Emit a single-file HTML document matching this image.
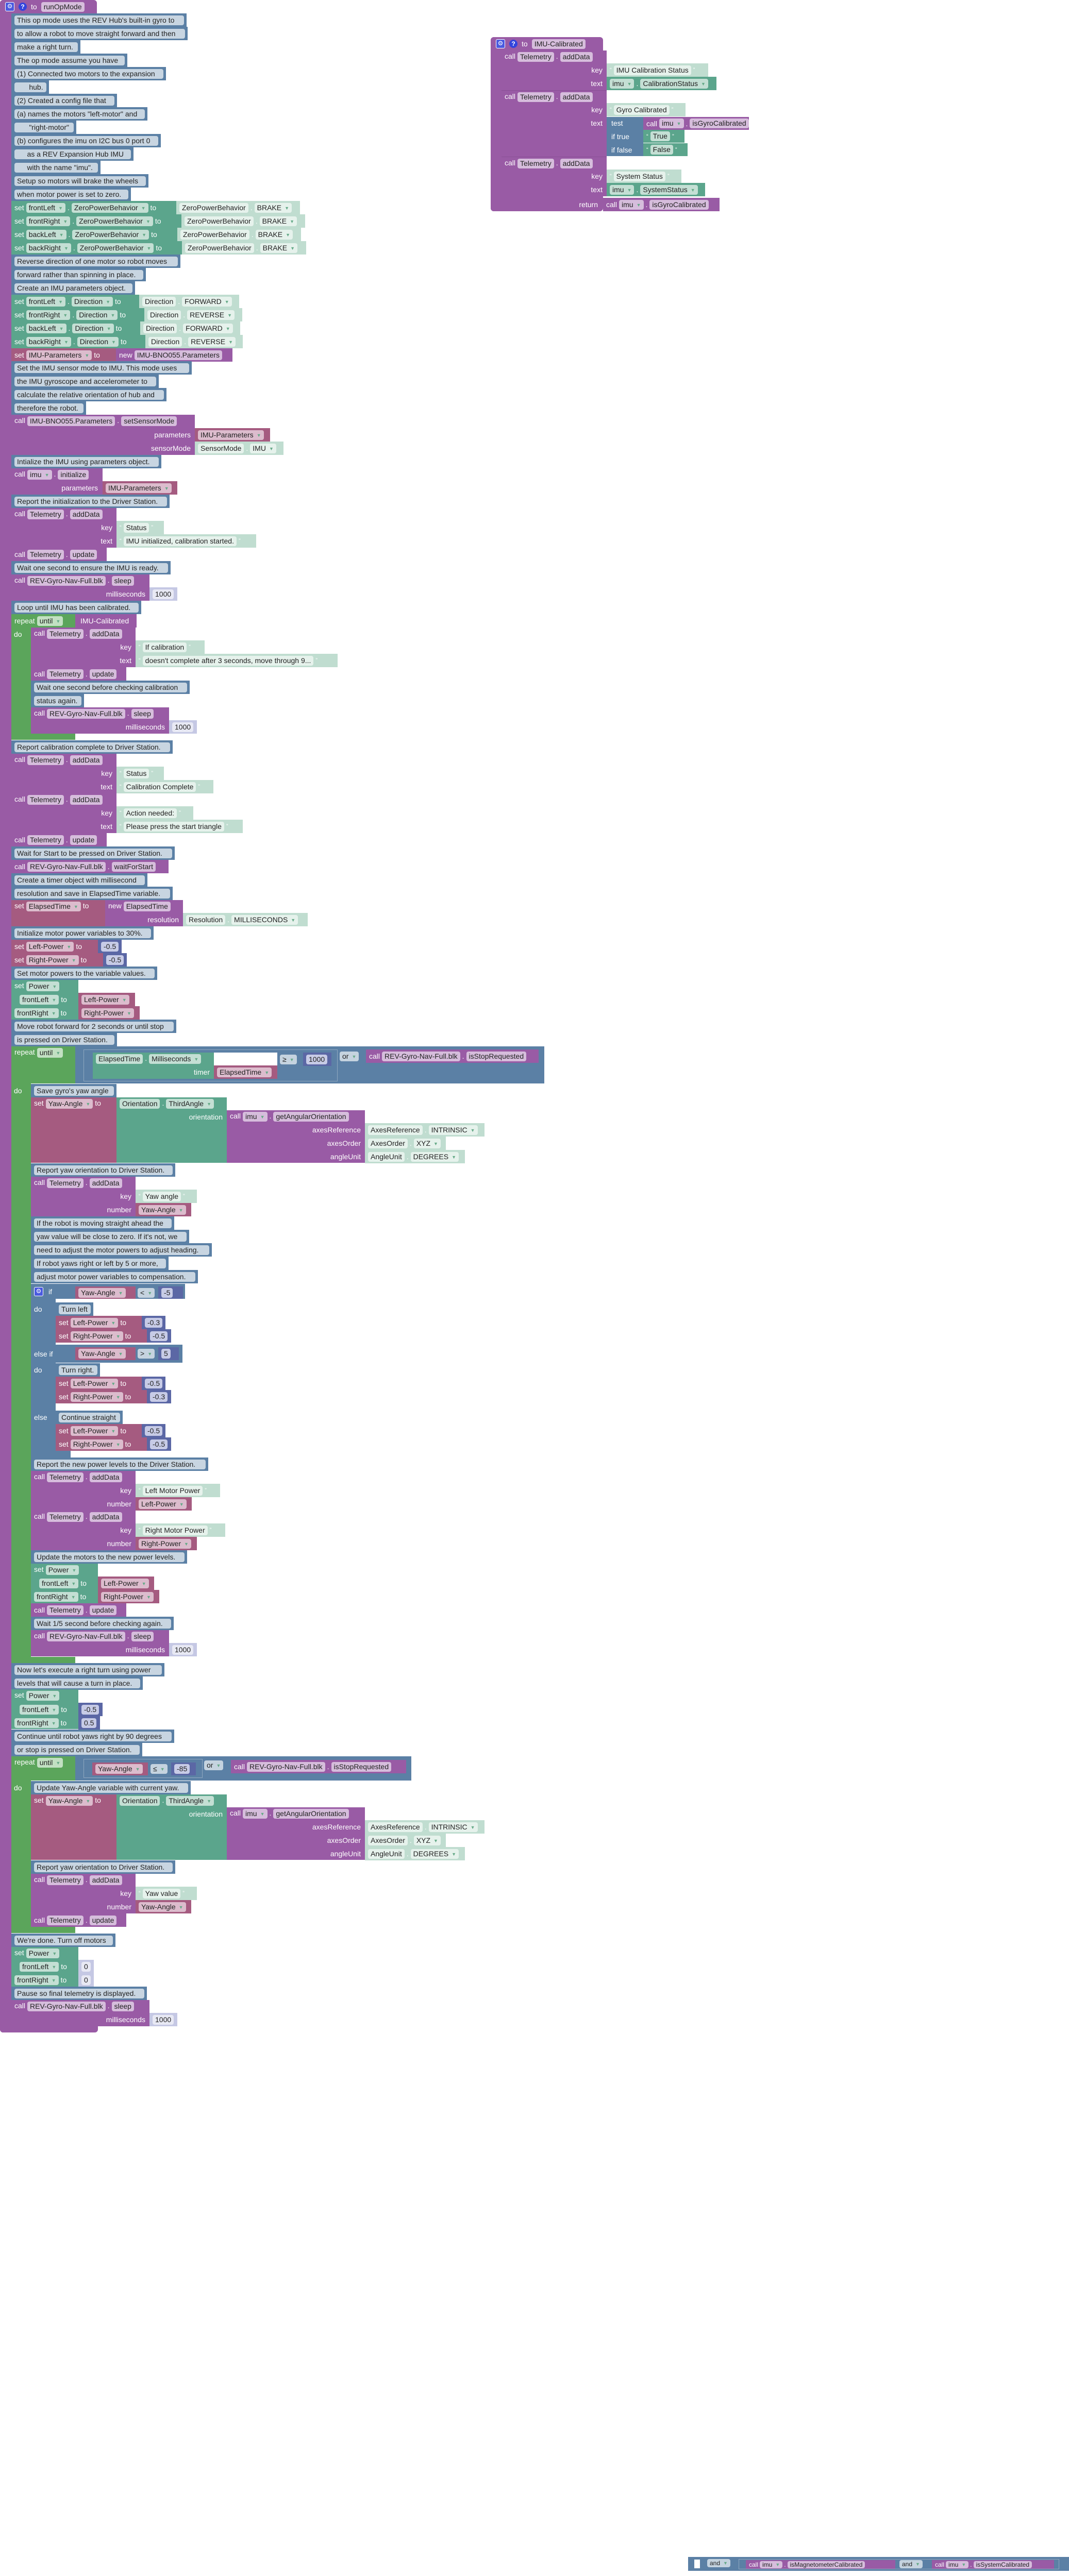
<!DOCTYPE html>
<html style="overflow:hidden;width:2074px;height:5011px"><head><meta charset="utf-8"><style>
html,body{margin:0;width:2074px;height:5011px;overflow:hidden}
body{background:#fff;position:relative;font-family:"Liberation Sans",Arial,sans-serif;font-size:14px}
div{position:absolute;box-sizing:border-box}
.r{height:26px;display:flex;align-items:center;padding-left:6px;gap:4px;color:#fff;white-space:nowrap;overflow:hidden}
.t{align-items:flex-start;padding-top:3px}
.p{display:inline-block;height:19px;line-height:19px;border-radius:4px;padding:0 5px;color:#222;white-space:nowrap}
.a{font-size:9px;color:#6a8;margin-left:6px;vertical-align:1px}
.lb{height:26px;line-height:26px;color:#fff;text-align:right;white-space:nowrap}
.q{color:#fff;font-size:11px}
.P{background:#995ba5}.P .p{background:#d6bddc}
.C{background:#5b80a5}.C .p{background:#c8d5e1;flex:1;margin-right:5px}
.G{background:#5ba58c}.G .p{background:#c4dfd4}
.L{background:#c0ddd0}.L .p{background:#e6f2ec}
.V{background:#a55b80}.V .p{background:#dcbccd}
.N{background:#5b67a5}.N .p{background:#c7cbe6}
.M{background:#c5c8e4}.M .p{background:#e8e9f4}
.K{background:#5ba55b}.K .p{background:#c2e0c2}
.B{background:#5b80a5}.B .p{background:#c5d3df}
.gear{display:inline-block;width:16px;height:16px;background:#4a5ae0;border:1px solid #fff;border-radius:3px;color:#fff;font-size:12px;line-height:15px;text-align:center}
.qm{display:inline-block;width:16px;height:16px;background:#3344dd;border-radius:50%;color:#fff;font-size:12px;line-height:16px;text-align:center;font-weight:bold}
.box{border:1px solid #90a8c0}
</style></head><body>

<div class="P" style="left:0;top:0;width:22px;height:3945px;border-radius:6px 0 0 6px"></div>
<div class="P r" style="left:0;top:0;width:188px;padding-left:10px;gap:8px;border-radius:6px 6px 0 0"><span class="gear">⚙</span><span class="qm">?</span>to<span class="p">runOpMode</span></div>
<div class="P" style="left:0;top:3932px;width:190px;height:13px;border-radius:0 0 6px 6px"></div>

<div class="C r" style="left:22px;top:26px;width:340px"><span class="p">This op mode uses the REV Hub's built-in gyro to</span></div>
<div class="C r" style="left:22px;top:52px;width:342px"><span class="p">to allow a robot to move straight forward and then</span></div>
<div class="C r" style="left:22px;top:78px;width:134px"><span class="p">make a right turn.</span></div>
<div class="C r" style="left:22px;top:104px;width:225px"><span class="p">The op mode assume you have</span></div>
<div class="C r" style="left:22px;top:130px;width:300px"><span class="p">(1) Connected two motors to the expansion</span></div>
<div class="C r" style="left:22px;top:156px;width:73px"><span class="p">&nbsp;&nbsp;&nbsp;&nbsp;&nbsp;&nbsp;hub.</span></div>
<div class="C r" style="left:22px;top:182px;width:205px"><span class="p">(2) Created a config file that</span></div>
<div class="C r" style="left:22px;top:208px;width:264px"><span class="p">(a) names the motors "left-motor" and</span></div>
<div class="C r" style="left:22px;top:234px;width:126px"><span class="p">&nbsp;&nbsp;&nbsp;&nbsp;&nbsp;&nbsp;"right-motor"</span></div>
<div class="C r" style="left:22px;top:260px;width:290px"><span class="p">(b) configures the imu on I2C bus 0 port 0</span></div>
<div class="C r" style="left:22px;top:286px;width:237px"><span class="p">&nbsp;&nbsp;&nbsp;&nbsp;&nbsp;as a REV Expansion Hub IMU</span></div>
<div class="C r" style="left:22px;top:312px;width:173px"><span class="p">&nbsp;&nbsp;&nbsp;&nbsp;&nbsp;with the name "imu".</span></div>
<div class="C r" style="left:22px;top:338px;width:266px"><span class="p">Setup so motors will brake the wheels</span></div>
<div class="C r" style="left:22px;top:364px;width:232px"><span class="p">when motor power is set to zero.</span></div>

<div class="G r" style="left:22px;top:390px;width:320px">set<span class="p">frontLeft<span class="a">▼</span></span>.<span class="p">ZeroPowerBehavior<span class="a">▼</span></span>to</div>
<div class="L r" style="left:342px;top:390px;width:240px"><span class="p">ZeroPowerBehavior</span>.<span class="p">BRAKE<span class="a">▼</span></span></div>
<div class="G r" style="left:22px;top:416px;width:330px">set<span class="p">frontRight<span class="a">▼</span></span>.<span class="p">ZeroPowerBehavior<span class="a">▼</span></span>to</div>
<div class="L r" style="left:352px;top:416px;width:240px"><span class="p">ZeroPowerBehavior</span>.<span class="p">BRAKE<span class="a">▼</span></span></div>
<div class="G r" style="left:22px;top:442px;width:322px">set<span class="p">backLeft<span class="a">▼</span></span>.<span class="p">ZeroPowerBehavior<span class="a">▼</span></span>to</div>
<div class="L r" style="left:344px;top:442px;width:240px"><span class="p">ZeroPowerBehavior</span>.<span class="p">BRAKE<span class="a">▼</span></span></div>
<div class="G r" style="left:22px;top:468px;width:331px">set<span class="p">backRight<span class="a">▼</span></span>.<span class="p">ZeroPowerBehavior<span class="a">▼</span></span>to</div>
<div class="L r" style="left:353px;top:468px;width:241px"><span class="p">ZeroPowerBehavior</span>.<span class="p">BRAKE<span class="a">▼</span></span></div>

<div class="C r" style="left:22px;top:494px;width:328px"><span class="p">Reverse direction of one motor so robot moves</span></div>
<div class="C r" style="left:22px;top:520px;width:261px"><span class="p">forward rather than spinning in place.</span></div>
<div class="C r" style="left:22px;top:546px;width:240px"><span class="p">Create an IMU parameters object.</span></div>

<div class="G r" style="left:22px;top:572px;width:248px">set<span class="p">frontLeft<span class="a">▼</span></span>.<span class="p">Direction<span class="a">▼</span></span>to</div>
<div class="L r" style="left:270px;top:572px;width:194px"><span class="p">Direction</span>.<span class="p">FORWARD<span class="a">▼</span></span></div>
<div class="G r" style="left:22px;top:598px;width:258px">set<span class="p">frontRight<span class="a">▼</span></span>.<span class="p">Direction<span class="a">▼</span></span>to</div>
<div class="L r" style="left:280px;top:598px;width:190px"><span class="p">Direction</span>.<span class="p">REVERSE<span class="a">▼</span></span></div>
<div class="G r" style="left:22px;top:624px;width:250px">set<span class="p">backLeft<span class="a">▼</span></span>.<span class="p">Direction<span class="a">▼</span></span>to</div>
<div class="L r" style="left:272px;top:624px;width:194px"><span class="p">Direction</span>.<span class="p">FORWARD<span class="a">▼</span></span></div>
<div class="G r" style="left:22px;top:650px;width:260px">set<span class="p">backRight<span class="a">▼</span></span>.<span class="p">Direction<span class="a">▼</span></span>to</div>
<div class="L r" style="left:282px;top:650px;width:189px"><span class="p">Direction</span>.<span class="p">REVERSE<span class="a">▼</span></span></div>

<div class="V r" style="left:22px;top:676px;width:203px">set<span class="p">IMU-Parameters<span class="a">▼</span></span>to</div>
<div class="P r" style="left:225px;top:676px;width:226px">new<span class="p">IMU-BNO055.Parameters</span></div>

<div class="C r" style="left:22px;top:701px;width:350px"><span class="p">Set the IMU sensor mode to IMU. This mode uses</span></div>
<div class="C r" style="left:22px;top:727px;width:286px"><span class="p">the IMU gyroscope and accelerometer to</span></div>
<div class="C r" style="left:22px;top:753px;width:301px"><span class="p">calculate the relative orientation of hub and</span></div>
<div class="C r" style="left:22px;top:779px;width:145px"><span class="p">therefore the robot.</span></div>

<div class="P r t" style="left:22px;top:805px;width:356px;height:78px">call<span class="p">IMU-BNO055.Parameters</span>.<span class="p">setSensorMode</span></div>
<div class="lb" style="left:22px;top:831px;width:348px">parameters</div>
<div class="V r" style="left:378px;top:831px;width:146px"><span class="p">IMU-Parameters<span class="a">▼</span></span></div>
<div class="lb" style="left:22px;top:857px;width:348px">sensorMode</div>
<div class="L r" style="left:378px;top:857px;width:172px"><span class="p">SensorMode</span>.<span class="p">IMU<span class="a">▼</span></span></div>

<div class="C r" style="left:22px;top:883px;width:291px"><span class="p">Intialize the IMU using parameters object.</span></div>
<div class="P r t" style="left:22px;top:909px;width:177px;height:51px">call<span class="p">imu<span class="a">▼</span></span>.<span class="p">initialize</span></div>
<div class="lb" style="left:22px;top:934px;width:168px">parameters</div>
<div class="V r" style="left:199px;top:934px;width:145px"><span class="p">IMU-Parameters<span class="a">▼</span></span></div>

<div class="C r" style="left:22px;top:960px;width:307px"><span class="p">Report the initialization to the Driver Station.</span></div>
<div class="P r t" style="left:22px;top:986px;width:204px;height:77px">call<span class="p">Telemetry</span>.<span class="p">addData</span></div>
<div class="lb" style="left:22px;top:1011px;width:196px">key</div>
<div class="L r" style="left:226px;top:1011px;width:92px"><span class="q">“</span><span class="p">Status</span><span class="q">”</span></div>
<div class="lb" style="left:22px;top:1037px;width:196px">text</div>
<div class="L r" style="left:226px;top:1037px;width:271px"><span class="q">“</span><span class="p">IMU initialized, calibration started.</span><span class="q">”</span></div>
<div class="P r" style="left:22px;top:1063px;width:185px">call<span class="p">Telemetry</span>.<span class="p">update</span></div>

<div class="C r" style="left:22px;top:1089px;width:309px"><span class="p">Wait one second to ensure the IMU is ready.</span></div>
<div class="P r t" style="left:22px;top:1115px;width:268px;height:51px">call<span class="p">REV-Gyro-Nav-Full.blk</span>.<span class="p">sleep</span></div>
<div class="lb" style="left:22px;top:1140px;width:260px">milliseconds</div>
<div class="M r" style="left:290px;top:1140px;width:54px"><span class="p">1000</span></div>

<div class="C r" style="left:22px;top:1166px;width:252px"><span class="p">Loop until IMU has been calibrated.</span></div>
<div class="K" style="left:22px;top:1192px;width:38px;height:244px"></div>
<div class="K r" style="left:22px;top:1192px;width:124px">repeat<span class="p">until<span class="a">▼</span></span></div>
<div class="K" style="left:22px;top:1424px;width:124px;height:12px"></div>
<div class="lb" style="left:27px;top:1218px;width:20px;text-align:left">do</div>
<div class="P r" style="left:146px;top:1192px;width:119px;padding-left:10px">IMU-Calibrated</div>
<div class="P r t" style="left:60px;top:1218px;width:203px;height:77px">call<span class="p">Telemetry</span>.<span class="p">addData</span></div>
<div class="lb" style="left:60px;top:1243px;width:195px">key</div>
<div class="L r" style="left:263px;top:1243px;width:134px"><span class="q">“</span><span class="p">If calibration</span><span class="q">”</span></div>
<div class="lb" style="left:60px;top:1269px;width:195px">text</div>
<div class="L r" style="left:263px;top:1269px;width:392px"><span class="q">“</span><span class="p">doesn't complete after 3 seconds, move through 9...</span><span class="q">”</span></div>
<div class="P r" style="left:60px;top:1295px;width:185px">call<span class="p">Telemetry</span>.<span class="p">update</span></div>
<div class="C r" style="left:60px;top:1321px;width:308px"><span class="p">Wait one second before checking calibration</span></div>
<div class="C r" style="left:60px;top:1347px;width:103px"><span class="p">status again.</span></div>
<div class="P r t" style="left:60px;top:1373px;width:268px;height:51px">call<span class="p">REV-Gyro-Nav-Full.blk</span>.<span class="p">sleep</span></div>
<div class="lb" style="left:60px;top:1398px;width:260px">milliseconds</div>
<div class="M r" style="left:328px;top:1398px;width:54px"><span class="p">1000</span></div>

<div class="C r" style="left:22px;top:1437px;width:313px"><span class="p">Report calibration complete to Driver Station.</span></div>
<div class="P r t" style="left:22px;top:1463px;width:204px;height:77px">call<span class="p">Telemetry</span>.<span class="p">addData</span></div>
<div class="lb" style="left:22px;top:1488px;width:196px">key</div>
<div class="L r" style="left:226px;top:1488px;width:92px"><span class="q">“</span><span class="p">Status</span><span class="q">”</span></div>
<div class="lb" style="left:22px;top:1514px;width:196px">text</div>
<div class="L r" style="left:226px;top:1514px;width:188px"><span class="q">“</span><span class="p">Calibration Complete</span><span class="q">”</span></div>
<div class="P r t" style="left:22px;top:1540px;width:204px;height:77px">call<span class="p">Telemetry</span>.<span class="p">addData</span></div>
<div class="lb" style="left:22px;top:1565px;width:196px">key</div>
<div class="L r" style="left:226px;top:1565px;width:149px"><span class="q">“</span><span class="p">Action needed:</span><span class="q">”</span></div>
<div class="lb" style="left:22px;top:1591px;width:196px">text</div>
<div class="L r" style="left:226px;top:1591px;width:245px"><span class="q">“</span><span class="p">Please press the start triangle</span><span class="q">”</span></div>
<div class="P r" style="left:22px;top:1617px;width:185px">call<span class="p">Telemetry</span>.<span class="p">update</span></div>
<div class="C r" style="left:22px;top:1643px;width:317px"><span class="p">Wait for Start to be pressed on Driver Station.</span></div>
<div class="P r" style="left:22px;top:1669px;width:305px">call<span class="p">REV-Gyro-Nav-Full.blk</span>.<span class="p">waitForStart</span></div>
<div class="C r" style="left:22px;top:1695px;width:264px"><span class="p">Create a timer object with millisecond</span></div>
<div class="C r" style="left:22px;top:1721px;width:313px"><span class="p">resolution and save in ElapsedTime variable.</span></div>
<div class="V r t" style="left:22px;top:1747px;width:182px;height:51px">set<span class="p">ElapsedTime<span class="a">▼</span></span>to</div>
<div class="P r t" style="left:204px;top:1747px;width:151px;height:51px">new<span class="p">ElapsedTime</span></div>
<div class="lb" style="left:204px;top:1772px;width:143px">resolution</div>
<div class="L r" style="left:355px;top:1772px;width:242px"><span class="p">Resolution</span>.<span class="p">MILLISECONDS<span class="a">▼</span></span></div>
<div class="C r" style="left:22px;top:1798px;width:276px"><span class="p">Initialize motor power variables to 30%.</span></div>
<div class="V r" style="left:22px;top:1824px;width:168px">set<span class="p">Left-Power<span class="a">▼</span></span>to</div>
<div class="N r" style="left:190px;top:1824px;width:46px"><span class="p">-0.5</span></div>
<div class="V r" style="left:22px;top:1850px;width:178px">set<span class="p">Right-Power<span class="a">▼</span></span>to</div>
<div class="N r" style="left:200px;top:1850px;width:46px"><span class="p">-0.5</span></div>
<div class="C r" style="left:22px;top:1876px;width:283px"><span class="p">Set motor powers to the variable values.</span></div>
<div class="G r t" style="left:22px;top:1902px;width:130px;height:77px">set<span class="p">Power<span class="a">▼</span></span></div>
<div class="r" style="left:32px;top:1927px;width:120px"><span class="p" style="background:#c4dfd4">frontLeft<span class="a">▼</span></span>to</div>
<div class="V r" style="left:152px;top:1927px;width:110px"><span class="p">Left-Power<span class="a">▼</span></span></div>
<div class="r" style="left:22px;top:1953px;width:130px"><span class="p" style="background:#c4dfd4">frontRight<span class="a">▼</span></span>to</div>
<div class="V r" style="left:152px;top:1953px;width:119px"><span class="p">Right-Power<span class="a">▼</span></span></div>
<div class="C r" style="left:22px;top:1979px;width:320px"><span class="p">Move robot forward for 2 seconds or until stop</span></div>
<div class="C r" style="left:22px;top:2005px;width:205px"><span class="p">is pressed on Driver Station.</span></div>

<div class="K" style="left:22px;top:2031px;width:38px;height:1197px"></div>
<div class="K r t" style="left:22px;top:2031px;width:124px;height:72px">repeat<span class="p">until<span class="a">▼</span></span></div>
<div class="K" style="left:22px;top:3216px;width:124px;height:12px"></div>
<div class="lb" style="left:27px;top:2104px;width:20px;text-align:left">do</div>
<div class="B" style="left:146px;top:2031px;width:910px;height:72px"></div>
<div class="box" style="left:162px;top:2037px;width:493px;height:62px"></div>
<div class="G r t" style="left:180px;top:2043px;width:235px;height:51px"><span class="p">ElapsedTime</span>.<span class="p">Milliseconds<span class="a">▼</span></span></div>
<div style="left:415px;top:2043px;width:123px;height:25px;background:#fff"></div>
<div class="lb" style="left:180px;top:2068px;width:227px">timer</div>
<div class="V r" style="left:415px;top:2068px;width:123px"><span class="p">ElapsedTime<span class="a">▼</span></span></div>
<div class="B r" style="left:540px;top:2043px;width:46px;padding-left:3px;background:none"><span class="p">≥<span class="a">▼</span></span></div>
<div class="N r" style="left:588px;top:2043px;width:55px"><span class="p">1000</span></div>
<div class="B r" style="left:656px;top:2037px;width:50px;padding-left:3px;background:none"><span class="p">or<span class="a">▼</span></span></div>
<div class="P r" style="left:710px;top:2037px;width:335px">call<span class="p">REV-Gyro-Nav-Full.blk</span>.<span class="p">isStopRequested</span></div>

<div class="C r" style="left:60px;top:2104px;width:166px"><span class="p">Save gyro's yaw angle</span></div>
<div class="V r t" style="left:60px;top:2130px;width:166px;height:127px">set<span class="p">Yaw-Angle<span class="a">▼</span></span>to</div>
<div class="G r t" style="left:226px;top:2130px;width:214px;height:127px"><span class="p">Orientation</span>.<span class="p">ThirdAngle<span class="a">▼</span></span></div>
<div class="lb" style="left:226px;top:2155px;width:206px">orientation</div>
<div class="P r t" style="left:440px;top:2155px;width:268px;height:102px">call<span class="p">imu<span class="a">▼</span></span>.<span class="p">getAngularOrientation</span></div>
<div class="lb" style="left:440px;top:2180px;width:260px">axesReference</div>
<div class="L r" style="left:708px;top:2180px;width:232px"><span class="p">AxesReference</span>.<span class="p">INTRINSIC<span class="a">▼</span></span></div>
<div class="lb" style="left:440px;top:2206px;width:260px">axesOrder</div>
<div class="L r" style="left:708px;top:2206px;width:157px"><span class="p">AxesOrder</span>.<span class="p">XYZ<span class="a">▼</span></span></div>
<div class="lb" style="left:440px;top:2232px;width:260px">angleUnit</div>
<div class="L r" style="left:708px;top:2232px;width:194px"><span class="p">AngleUnit</span>.<span class="p">DEGREES<span class="a">▼</span></span></div>

<div class="C r" style="left:60px;top:2258px;width:280px"><span class="p">Report yaw orientation to Driver Station.</span></div>
<div class="P r t" style="left:60px;top:2284px;width:203px;height:77px">call<span class="p">Telemetry</span>.<span class="p">addData</span></div>
<div class="lb" style="left:60px;top:2309px;width:195px">key</div>
<div class="L r" style="left:263px;top:2309px;width:119px"><span class="q">“</span><span class="p">Yaw angle</span><span class="q">”</span></div>
<div class="lb" style="left:60px;top:2335px;width:195px">number</div>
<div class="V r" style="left:263px;top:2335px;width:108px"><span class="p">Yaw-Angle<span class="a">▼</span></span></div>
<div class="C r" style="left:60px;top:2361px;width:278px"><span class="p">If the robot is moving straight ahead the</span></div>
<div class="C r" style="left:60px;top:2387px;width:307px"><span class="p">yaw value will be close to zero. If it's not, we</span></div>
<div class="C r" style="left:60px;top:2413px;width:351px"><span class="p">need to adjust the motor powers to adjust heading.</span></div>
<div class="C r" style="left:60px;top:2439px;width:267px"><span class="p">If robot yaws right or left by 5 or more,</span></div>
<div class="C r" style="left:60px;top:2465px;width:324px"><span class="p">adjust motor power variables to compensation.</span></div>

<div class="B" style="left:60px;top:2492px;width:48px;height:337px"></div>
<div class="B r" style="left:60px;top:2492px;width:299px;height:29px;gap:10px"><span class="gear">⚙</span>if</div>
<div class="V r" style="left:146px;top:2497px;width:117px;height:24px"><span class="p">Yaw-Angle<span class="a">▼</span></span></div>
<div class="r" style="left:264px;top:2497px;width:40px;height:24px;padding-left:3px"><span class="p" style="background:#c5d3df">&lt;<span class="a">▼</span></span></div>
<div class="N r" style="left:307px;top:2497px;width:48px;height:24px"><span class="p">-5</span></div>
<div class="lb" style="left:66px;top:2528px;width:30px;text-align:left">do</div>
<div class="C r" style="left:108px;top:2528px;width:73px"><span class="p">Turn left</span></div>
<div class="V r" style="left:108px;top:2554px;width:167px">set<span class="p">Left-Power<span class="a">▼</span></span>to</div>
<div class="N r" style="left:275px;top:2554px;width:46px"><span class="p">-0.3</span></div>
<div class="V r" style="left:108px;top:2580px;width:177px">set<span class="p">Right-Power<span class="a">▼</span></span>to</div>
<div class="N r" style="left:285px;top:2580px;width:47px"><span class="p">-0.5</span></div>
<div class="B r" style="left:60px;top:2610px;width:294px;height:35px">else if</div>
<div class="V r" style="left:146px;top:2615px;width:117px;height:25px"><span class="p">Yaw-Angle<span class="a">▼</span></span></div>
<div class="r" style="left:264px;top:2615px;width:40px;height:25px;padding-left:3px"><span class="p" style="background:#c5d3df">&gt;<span class="a">▼</span></span></div>
<div class="N r" style="left:307px;top:2615px;width:40px;height:25px"><span class="p">5</span></div>
<div class="lb" style="left:66px;top:2646px;width:30px;text-align:left">do</div>
<div class="C r" style="left:108px;top:2646px;width:86px"><span class="p">Turn right.</span></div>
<div class="V r" style="left:108px;top:2672px;width:167px">set<span class="p">Left-Power<span class="a">▼</span></span>to</div>
<div class="N r" style="left:275px;top:2672px;width:46px"><span class="p">-0.5</span></div>
<div class="V r" style="left:108px;top:2698px;width:177px">set<span class="p">Right-Power<span class="a">▼</span></span>to</div>
<div class="N r" style="left:285px;top:2698px;width:47px"><span class="p">-0.3</span></div>
<div class="lb" style="left:66px;top:2738px;width:40px;text-align:left">else</div>
<div class="C r" style="left:108px;top:2738px;width:130px"><span class="p">Continue straight</span></div>
<div class="V r" style="left:108px;top:2764px;width:167px">set<span class="p">Left-Power<span class="a">▼</span></span>to</div>
<div class="N r" style="left:275px;top:2764px;width:46px"><span class="p">-0.5</span></div>
<div class="V r" style="left:108px;top:2790px;width:177px">set<span class="p">Right-Power<span class="a">▼</span></span>to</div>
<div class="N r" style="left:285px;top:2790px;width:47px"><span class="p">-0.5</span></div>
<div class="B" style="left:60px;top:2816px;width:77px;height:13px"></div>

<div class="C r" style="left:60px;top:2829px;width:344px"><span class="p">Report the new power levels to the Driver Station.</span></div>
<div class="P r t" style="left:60px;top:2855px;width:203px;height:77px">call<span class="p">Telemetry</span>.<span class="p">addData</span></div>
<div class="lb" style="left:60px;top:2880px;width:195px">key</div>
<div class="L r" style="left:263px;top:2880px;width:164px"><span class="q">“</span><span class="p">Left Motor Power</span><span class="q">”</span></div>
<div class="lb" style="left:60px;top:2906px;width:195px">number</div>
<div class="V r" style="left:263px;top:2906px;width:109px"><span class="p">Left-Power<span class="a">▼</span></span></div>
<div class="P r t" style="left:60px;top:2932px;width:203px;height:77px">call<span class="p">Telemetry</span>.<span class="p">addData</span></div>
<div class="lb" style="left:60px;top:2957px;width:195px">key</div>
<div class="L r" style="left:263px;top:2957px;width:174px"><span class="q">“</span><span class="p">Right Motor Power</span><span class="q">”</span></div>
<div class="lb" style="left:60px;top:2983px;width:195px">number</div>
<div class="V r" style="left:263px;top:2983px;width:119px"><span class="p">Right-Power<span class="a">▼</span></span></div>
<div class="C r" style="left:60px;top:3009px;width:303px"><span class="p">Update the motors to the new power levels.</span></div>
<div class="G r t" style="left:60px;top:3035px;width:130px;height:77px">set<span class="p">Power<span class="a">▼</span></span></div>
<div class="r" style="left:70px;top:3060px;width:120px"><span class="p" style="background:#c4dfd4">frontLeft<span class="a">▼</span></span>to</div>
<div class="V r" style="left:190px;top:3060px;width:109px"><span class="p">Left-Power<span class="a">▼</span></span></div>
<div class="r" style="left:60px;top:3086px;width:130px"><span class="p" style="background:#c4dfd4">frontRight<span class="a">▼</span></span>to</div>
<div class="V r" style="left:190px;top:3086px;width:119px"><span class="p">Right-Power<span class="a">▼</span></span></div>
<div class="P r" style="left:60px;top:3112px;width:185px">call<span class="p">Telemetry</span>.<span class="p">update</span></div>
<div class="C r" style="left:60px;top:3138px;width:277px"><span class="p">Wait 1/5 second before checking again.</span></div>
<div class="P r t" style="left:60px;top:3164px;width:268px;height:51px">call<span class="p">REV-Gyro-Nav-Full.blk</span>.<span class="p">sleep</span></div>
<div class="lb" style="left:60px;top:3189px;width:260px">milliseconds</div>
<div class="M r" style="left:328px;top:3189px;width:54px"><span class="p">1000</span></div>

<div class="C r" style="left:22px;top:3228px;width:297px"><span class="p">Now let's execute a right turn using power</span></div>
<div class="C r" style="left:22px;top:3254px;width:255px"><span class="p">levels that will cause a turn in place.</span></div>
<div class="G r t" style="left:22px;top:3279px;width:130px;height:77px">set<span class="p">Power<span class="a">▼</span></span></div>
<div class="r" style="left:32px;top:3305px;width:120px"><span class="p" style="background:#c4dfd4">frontLeft<span class="a">▼</span></span>to</div>
<div class="N r" style="left:152px;top:3305px;width:47px"><span class="p">-0.5</span></div>
<div class="r" style="left:22px;top:3331px;width:130px"><span class="p" style="background:#c4dfd4">frontRight<span class="a">▼</span></span>to</div>
<div class="N r" style="left:152px;top:3331px;width:42px"><span class="p">0.5</span></div>
<div class="C r" style="left:22px;top:3357px;width:316px"><span class="p">Continue until robot yaws right by 90 degrees</span></div>
<div class="C r" style="left:22px;top:3383px;width:254px"><span class="p">or stop is pressed on Driver Station.</span></div>

<div class="K" style="left:22px;top:3409px;width:38px;height:343px"></div>
<div class="K r t" style="left:22px;top:3409px;width:124px;height:47px">repeat<span class="p">until<span class="a">▼</span></span></div>
<div class="K" style="left:22px;top:3740px;width:124px;height:12px"></div>
<div class="lb" style="left:27px;top:3457px;width:20px;text-align:left">do</div>
<div class="B" style="left:146px;top:3409px;width:652px;height:47px"></div>
<div class="box" style="left:162px;top:3414px;width:231px;height:37px"></div>
<div class="V r" style="left:179px;top:3421px;width:108px;height:25px"><span class="p">Yaw-Angle<span class="a">▼</span></span></div>
<div class="r" style="left:289px;top:3421px;width:40px;height:25px;padding-left:3px"><span class="p" style="background:#c5d3df">≤<span class="a">▼</span></span></div>
<div class="N r" style="left:332px;top:3421px;width:48px;height:25px"><span class="p">-85</span></div>
<div class="r" style="left:393px;top:3414px;width:50px;height:24px;padding-left:3px"><span class="p" style="background:#c5d3df">or<span class="a">▼</span></span></div>
<div class="P r" style="left:448px;top:3416px;width:340px">call<span class="p">REV-Gyro-Nav-Full.blk</span>.<span class="p">isStopRequested</span></div>

<div class="C r" style="left:60px;top:3457px;width:310px"><span class="p">Update Yaw-Angle variable with current yaw.</span></div>
<div class="V r t" style="left:60px;top:3483px;width:166px;height:127px">set<span class="p">Yaw-Angle<span class="a">▼</span></span>to</div>
<div class="G r t" style="left:226px;top:3483px;width:214px;height:127px"><span class="p">Orientation</span>.<span class="p">ThirdAngle<span class="a">▼</span></span></div>
<div class="lb" style="left:226px;top:3508px;width:206px">orientation</div>
<div class="P r t" style="left:440px;top:3508px;width:268px;height:102px">call<span class="p">imu<span class="a">▼</span></span>.<span class="p">getAngularOrientation</span></div>
<div class="lb" style="left:440px;top:3533px;width:260px">axesReference</div>
<div class="L r" style="left:708px;top:3533px;width:232px"><span class="p">AxesReference</span>.<span class="p">INTRINSIC<span class="a">▼</span></span></div>
<div class="lb" style="left:440px;top:3559px;width:260px">axesOrder</div>
<div class="L r" style="left:708px;top:3559px;width:157px"><span class="p">AxesOrder</span>.<span class="p">XYZ<span class="a">▼</span></span></div>
<div class="lb" style="left:440px;top:3585px;width:260px">angleUnit</div>
<div class="L r" style="left:708px;top:3585px;width:194px"><span class="p">AngleUnit</span>.<span class="p">DEGREES<span class="a">▼</span></span></div>
<div class="C r" style="left:60px;top:3611px;width:280px"><span class="p">Report yaw orientation to Driver Station.</span></div>
<div class="P r t" style="left:60px;top:3637px;width:203px;height:77px">call<span class="p">Telemetry</span>.<span class="p">addData</span></div>
<div class="lb" style="left:60px;top:3662px;width:195px">key</div>
<div class="L r" style="left:263px;top:3662px;width:119px"><span class="q">“</span><span class="p">Yaw value</span><span class="q">”</span></div>
<div class="lb" style="left:60px;top:3688px;width:195px">number</div>
<div class="V r" style="left:263px;top:3688px;width:108px"><span class="p">Yaw-Angle<span class="a">▼</span></span></div>
<div class="P r" style="left:60px;top:3714px;width:185px">call<span class="p">Telemetry</span>.<span class="p">update</span></div>

<div class="C r" style="left:22px;top:3753px;width:202px"><span class="p">We're done. Turn off motors</span></div>
<div class="G r t" style="left:22px;top:3779px;width:130px;height:77px">set<span class="p">Power<span class="a">▼</span></span></div>
<div class="r" style="left:32px;top:3804px;width:120px"><span class="p" style="background:#c4dfd4">frontLeft<span class="a">▼</span></span>to</div>
<div class="M r" style="left:152px;top:3804px;width:30px"><span class="p">0</span></div>
<div class="r" style="left:22px;top:3830px;width:130px"><span class="p" style="background:#c4dfd4">frontRight<span class="a">▼</span></span>to</div>
<div class="M r" style="left:152px;top:3830px;width:30px"><span class="p">0</span></div>
<div class="C r" style="left:22px;top:3856px;width:263px"><span class="p">Pause so final telemetry is displayed.</span></div>
<div class="P r t" style="left:22px;top:3882px;width:268px;height:51px">call<span class="p">REV-Gyro-Nav-Full.blk</span>.<span class="p">sleep</span></div>
<div class="lb" style="left:22px;top:3907px;width:260px">milliseconds</div>
<div class="M r" style="left:290px;top:3907px;width:54px"><span class="p">1000</span></div>

<div class="P" style="left:952px;top:72px;width:21px;height:338px;border-radius:6px 0 0 6px"></div>
<div class="P r" style="left:952px;top:72px;width:218px;padding-left:10px;gap:8px;border-radius:6px 6px 0 0"><span class="gear">⚙</span><span class="qm">?</span>to<span class="p">IMU-Calibrated</span></div>
<div class="P r t" style="left:973px;top:98px;width:204px;height:77px">call<span class="p">Telemetry</span>.<span class="p">addData</span></div>
<div class="lb" style="left:973px;top:123px;width:196px">key</div>
<div class="L r" style="left:1177px;top:123px;width:197px"><span class="q">“</span><span class="p">IMU Calibration Status</span><span class="q">”</span></div>
<div class="lb" style="left:973px;top:149px;width:196px">text</div>
<div class="G r" style="left:1177px;top:149px;width:213px"><span class="p">imu<span class="a">▼</span></span>.<span class="p">CalibrationStatus<span class="a">▼</span></span></div>
<div class="P r t" style="left:973px;top:175px;width:204px;height:129px;border-top:1px solid #8a4f96">call<span class="p">Telemetry</span>.<span class="p">addData</span></div>
<div class="lb" style="left:973px;top:200px;width:196px">key</div>
<div class="L r" style="left:1177px;top:200px;width:153px"><span class="q">“</span><span class="p">Gyro Calibrated</span><span class="q">”</span></div>
<div class="lb" style="left:973px;top:226px;width:196px">text</div>
<div class="B" style="left:1177px;top:227px;width:71px;height:76px"></div>
<div class="lb" style="left:1186px;top:226px;width:60px;text-align:left">test</div>
<div class="lb" style="left:1186px;top:252px;width:60px;text-align:left">if true</div>
<div class="lb" style="left:1186px;top:278px;width:60px;text-align:left">if false</div>
<div class="P r" style="left:1248px;top:227px;width:205px;height:25px">call<span class="p">imu<span class="a">▼</span></span>.<span class="p">isGyroCalibrated</span></div>
<div class="G r" style="left:1248px;top:252px;width:80px;height:25px"><span class="q">“</span><span class="p">True</span><span class="q">”</span></div>
<div class="G r" style="left:1248px;top:278px;width:86px;height:25px"><span class="q">“</span><span class="p">False</span><span class="q">”</span></div>
<div class="P r t" style="left:973px;top:304px;width:204px;height:77px;border-top:1px solid #8a4f96">call<span class="p">Telemetry</span>.<span class="p">addData</span></div>
<div class="lb" style="left:973px;top:329px;width:196px">key</div>
<div class="L r" style="left:1177px;top:329px;width:145px"><span class="q">“</span><span class="p">System Status</span><span class="q">”</span></div>
<div class="lb" style="left:973px;top:355px;width:196px">text</div>
<div class="G r" style="left:1177px;top:355px;width:191px"><span class="p">imu<span class="a">▼</span></span>.<span class="p">SystemStatus<span class="a">▼</span></span></div>
<div class="P" style="left:952px;top:381px;width:218px;height:29px;border-radius:0 0 6px 6px"></div>
<div class="lb" style="left:952px;top:384px;width:208px">return</div>
<div class="P r" style="left:1170px;top:384px;width:226px">call<span class="p">imu<span class="a">▼</span></span>.<span class="p">isGyroCalibrated</span></div>

<div class="B" style="left:1335px;top:4963px;width:739px;height:27px"></div>
<div style="left:1347px;top:4968px;width:11px;height:17px;background:#fff"></div>
<div class="r" style="left:1370px;top:4965px;width:56px;height:20px;padding-left:2px;font-size:12px"><span class="p" style="background:#c5d3df;height:16px;line-height:16px">and<span class="a">▼</span></span></div>
<div class="box" style="left:1433px;top:4967px;width:622px;height:20px"></div>
<div class="P r" style="left:1447px;top:4969px;width:290px;height:17px;font-size:12px;gap:3px">call<span class="p" style="height:14px;line-height:14px">imu<span class="a">▼</span></span>.<span class="p" style="height:14px;line-height:14px">isMagnetometerCalibrated</span></div>
<div class="r" style="left:1743px;top:4967px;width:48px;height:20px;padding-left:2px;font-size:12px"><span class="p" style="background:#c5d3df;height:16px;line-height:16px">and<span class="a">▼</span></span></div>
<div class="P r" style="left:1808px;top:4969px;width:237px;height:17px;font-size:12px;gap:3px">call<span class="p" style="height:14px;line-height:14px">imu<span class="a">▼</span></span>.<span class="p" style="height:14px;line-height:14px">isSystemCalibrated</span></div>

</body></html>
